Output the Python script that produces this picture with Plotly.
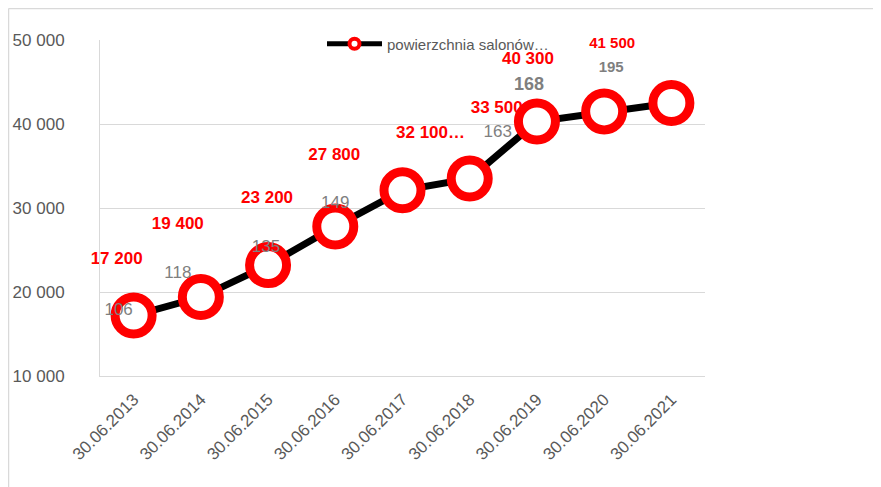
import plotly.graph_objects as go

dates = ["30.06.2013", "30.06.2014", "30.06.2015", "30.06.2016", "30.06.2017",
         "30.06.2018", "30.06.2019", "30.06.2020", "30.06.2021"]
area = [17200, 19400, 23200, 27800, 32100, 33500, 40300, 41500, 42500]
area_suffix = ["", "", "", "", "…", "", "", "", ""]
salons = [106, 118, 135, 149, None, 163, 168, 195, None]
series_name = "powierzchnia salonów…"

# label placement (pixel offsets from each point; screen y grows downward)
red_dx = [-17, -23, -1, -1, 28, 27, -9, 8, 40]
red_dy = [-56, -72, -66, -71, -57, -70, -62, -67, -50]
red_size = [17, 17, 17, 17, 17, 17, 17, 15, 17]
gray_dx = [-15, -23, -2, 0, 0, 28, -8, 7, 0]
gray_dy = [-5, -23, -17, -23, 0, -46, -36, -43, 0]
gray_size = [17, 17, 17, 17, 17, 17, 18, 15, 17]
gray_bold = [False, False, False, False, False, False, True, True, False]

FONT = "Liberation Sans, Arial, sans-serif"
OFF = 8                      # default page body margin
W, H = 881, 487
# plot area in screen pixels: x 100..705, y 40..376
ML, MT = 100 - OFF, 40 - OFF
MR = W - (705 - OFF)
MB = H - (376 - OFF)
YMIN, YMAX = 10000, 50000
PW, PH = W - ML - MR, H - MT - MB
px_x = PW / len(dates)               # pixels per category
px_y = PH / (YMAX - YMIN)            # pixels per unit

def paper_x(sx):
    return (sx - OFF - ML) / PW

def paper_y(sy):
    return (H - MB - (sy - OFF)) / PH

xi = list(range(len(dates)))

def fmt(v):
    return f"{v:,}".replace(",", " ")

fig = go.Figure()

# red value labels (below markers)
rx = [i + red_dx[i] / px_x for i in xi]
ry = [area[i] - red_dy[i] / px_y for i in xi]
rt = [f"<b>{fmt(v)}{area_suffix[i]}</b>" for i, v in enumerate(area)]
fig.add_trace(go.Scatter(x=rx, y=ry, text=rt, mode="text", showlegend=False,
                         cliponaxis=False,
                         textfont=dict(family=FONT, size=red_size, color="#ff0000"),
                         hoverinfo="skip"))

# main series
fig.add_trace(go.Scatter(
    x=xi, y=area, mode="lines+markers", name=series_name, showlegend=False,
    cliponaxis=False,
    line=dict(color="black", width=7),
    marker=dict(size=37, color="white", line=dict(color="#ff0000", width=9)),
))

# gray labels (second series), drawn above markers
gx, gy, gt, gs = [], [], [], []
for i, s in enumerate(salons):
    if s is None:
        continue
    gx.append(i + gray_dx[i] / px_x)
    gy.append(area[i] - gray_dy[i] / px_y)
    gt.append(f"<b>{s}</b>" if gray_bold[i] else str(s))
    gs.append(gray_size[i])
fig.add_trace(go.Scatter(x=gx, y=gy, text=gt, mode="text", showlegend=False,
                         cliponaxis=False,
                         textfont=dict(family=FONT, size=gs, color="#7f7f7f"),
                         hoverinfo="skip"))

# legend entry
fig.add_trace(go.Scatter(
    x=[None], y=[None], mode="lines+markers", name=series_name,
    line=dict(color="black", width=5),
    marker=dict(size=10, color="white", line=dict(color="#ff0000", width=4)),
))

fig.update_layout(
    width=W, height=H,
    margin=dict(l=ML, r=MR, t=MT, b=MB, autoexpand=False),
    paper_bgcolor="white", plot_bgcolor="white",
    separators=", ",
    font=dict(family=FONT, color="#595959"),
    showlegend=True,
    legend=dict(x=paper_x(322), xanchor="left",
                y=paper_y(44), yanchor="middle",
                bgcolor="rgba(0,0,0,0)", font=dict(size=15, color="#595959"),
                itemwidth=55),
    xaxis=dict(range=[-0.5, len(dates) - 0.5], tickvals=xi, ticktext=dates,
               tickangle=-45, showgrid=False, zeroline=False, automargin=False,
               showline=True, linecolor="#d9d9d9", linewidth=1,
               ticklabelstandoff=6,
               tickfont=dict(family=FONT, size=17, color="#595959")),
    yaxis=dict(range=[YMIN, YMAX], dtick=10000, tickformat=",d",
               showgrid=True, gridcolor="#d9d9d9", gridwidth=1, zeroline=False,
               automargin=False,
               showline=True, linecolor="#d9d9d9", linewidth=1,
               ticklabelstandoff=31,
               tickfont=dict(family=FONT, size=17, color="#595959")),
    shapes=[
        dict(type="line", xref="paper", yref="paper",
             x0=paper_x(8.5), x1=paper_x(8.5),
             y0=paper_y(H + 10), y1=paper_y(8.5),
             line=dict(color="#d9d9d9", width=1.5)),
        dict(type="line", xref="paper", yref="paper",
             x0=paper_x(8.5), x1=paper_x(W + 10),
             y0=paper_y(8.5), y1=paper_y(8.5),
             line=dict(color="#d9d9d9", width=1.5)),
    ],
)

fig.write_html("out.html")
